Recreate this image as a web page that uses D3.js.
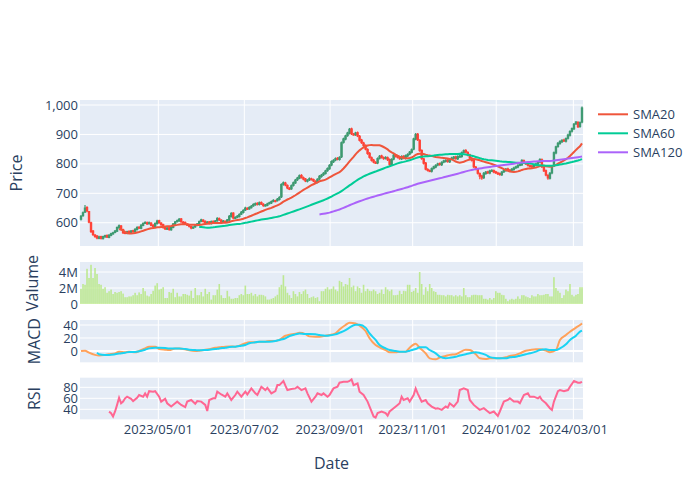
<!DOCTYPE html>
<html><head><meta charset="utf-8">
<script src="https://cdn.jsdelivr.net/npm/d3@7"></script>
<style>body{margin:0;background:#fff}svg{display:block}</style>
</head><body><svg id="c" width="700" height="500"></svg>
<script>
// ---- data (trading-day index = position in arrays) ----
const openP = [612,624,636,652,638,600,572,558,555,547,
553,546,552,557,550,557,562,567,571,583,
589,577,567,564,571,565,573,569,577,585,
581,591,599,600,597,599,592,585,597,607,
599,594,585,578,583,576,584,595,604,606,
613,602,601,595,593,587,583,586,591,597,
605,609,605,599,603,597,605,599,607,614,
609,605,605,604,609,621,633,615,619,621,
629,635,643,649,647,651,657,661,666,662,
669,663,659,659,665,667,673,675,675,679,
688,731,735,727,717,715,727,735,746,751,
761,753,749,741,746,749,747,741,737,749,
757,763,767,777,783,796,807,813,819,815,
824,873,884,896,904,919,901,899,906,894,
881,871,863,849,836,821,813,805,803,819,
827,821,819,821,815,797,816,829,827,821,
817,826,819,827,833,839,850,884,901,880,
846,817,803,781,777,775,785,789,796,801,
797,806,809,813,807,816,819,824,817,826,
825,839,846,839,831,819,813,789,783,767,
759,753,767,773,769,777,777,773,769,767,
763,773,777,783,779,779,781,787,789,796,
797,811,803,801,794,793,789,796,799,806,
814,789,777,761,751,769,793,837,859,869,
875,881,877,887,897,911,919,936,941,927,
942];
const highP = [626,638,660,656,640,603,575,562,558,556,
556,556,559,560,561,566,569,575,587,594,
592,580,570,573,574,575,576,581,588,588,
595,601,605,604,604,602,595,601,610,610,
602,597,588,586,586,588,599,606,611,616,
616,606,604,598,596,590,588,593,599,608,
614,612,608,606,606,608,608,609,619,618,
612,609,608,613,626,636,636,622,626,632,
640,646,654,653,656,660,666,669,670,672,
672,666,664,668,671,676,680,678,684,690,
734,740,739,730,721,730,740,749,756,764,
765,757,752,748,754,753,750,744,751,762,
766,772,780,788,799,812,816,822,823,826,
876,889,899,909,922,923,905,909,910,898,
885,875,866,853,840,825,817,809,822,830,
831,825,826,825,818,819,834,833,830,825,
829,829,832,836,844,852,889,905,905,884,
849,820,806,785,781,788,794,799,804,805,
809,814,816,817,819,824,827,828,829,830,
842,849,850,843,834,823,816,793,786,771,
763,772,776,777,780,782,781,777,773,771,
776,782,786,787,783,786,790,794,799,802,
816,815,807,805,798,797,799,804,809,819,
818,793,781,765,772,796,842,862,874,880,
884,885,890,902,914,924,939,946,945,944,
995];
const lowP = [608,620,633,636,598,565,555,549,544,544,
543,543,549,548,547,554,559,564,569,580,
575,562,561,561,563,562,567,566,574,579,
578,588,596,592,594,588,582,582,594,597,
590,580,575,575,573,573,581,592,601,603,
600,597,593,589,584,578,580,583,588,594,
602,601,596,596,594,594,596,596,603,606,
601,602,600,601,606,618,612,612,615,618,
626,631,640,643,644,648,654,658,659,659,
660,654,655,656,662,664,670,670,672,676,
684,726,724,714,711,712,723,732,742,748,
750,744,738,737,742,744,738,732,734,745,
753,759,764,773,780,792,803,809,812,811,
820,869,880,892,900,898,896,895,891,876,
868,858,846,831,818,808,802,800,799,815,
818,814,815,810,794,793,812,822,818,814,
813,816,815,823,829,835,846,880,878,841,
814,798,778,774,772,771,781,785,792,794,
793,802,805,804,803,812,815,814,813,822,
821,835,836,826,816,808,786,778,764,748,
746,749,763,766,765,773,768,766,762,760,
759,769,773,776,774,775,777,783,785,792,
793,800,796,791,788,786,785,792,795,802,
786,772,758,746,747,765,789,833,855,865,
871,874,873,883,893,907,915,932,922,923,
938];
const closeP = [622,634,650,640,602,570,560,553,548,552,
547,553,556,551,558,563,566,572,584,590,
578,566,565,570,566,572,570,578,584,582,
592,598,601,596,600,591,586,598,606,600,
593,584,579,582,577,585,596,603,607,612,
603,600,596,592,588,582,585,590,596,604,
610,604,600,602,598,604,600,606,615,610,
604,606,603,610,622,632,616,618,622,628,
636,642,650,646,652,656,662,665,663,668,
664,658,660,664,668,672,676,674,680,686,
730,736,728,718,716,726,736,745,752,760,
754,748,742,745,750,748,742,736,748,758,
762,768,776,784,795,808,812,818,816,822,
872,885,895,905,918,902,900,905,895,880,
872,862,850,835,822,812,806,804,818,826,
822,818,822,814,798,815,830,826,822,818,
825,820,828,832,840,848,885,900,882,845,
818,802,782,778,776,784,790,795,800,798,
805,810,812,808,815,820,823,818,825,826,
838,845,840,830,820,812,790,782,768,758,
752,768,772,770,776,778,772,770,766,764,
772,778,782,780,778,782,786,790,795,798,
812,804,800,795,792,790,795,800,805,815,
790,776,762,752,768,792,838,858,870,876,
880,878,886,898,910,920,935,942,926,940,
990];
// volume in millions of shares
const volumeM = [1.9,2.5,2.4,4.4,3.25,4.9,3.25,4.5,3.75,2.5,
2.4,1.9,2.1,1.4,1.6,1.8,1.25,1.5,1.4,1.5,
1.6,1.3,0.85,0.85,0.95,0.95,1.1,1.4,1.1,1.45,
1.25,2.0,1.6,1.05,0.95,1.25,1.65,2.3,2.6,1.8,
1.9,2.1,0.75,0.75,1.5,1.4,1.9,0.85,1.4,0.95,
0.95,1.25,1.25,1.15,1.05,1.65,0.75,2.0,1.1,1.1,
1.5,0.95,1.9,1.25,1.5,0.55,1.1,1.1,1.8,2.5,
1.1,0.75,0.75,1.65,0.95,0.65,0.65,0.75,0.75,1.1,
1.25,1.1,2.3,1.25,1.25,1.4,1.05,1.25,0.95,1.15,
1.15,1.1,0.95,0.55,0.55,0.65,0.75,0.95,1.15,2.1,
2.4,3.6,2.2,1.4,1.1,0.75,1.6,1.25,0.95,1.5,
1.25,1.6,1.8,1.25,0.75,0.85,0.95,0.75,0.85,0.35,
1.6,1.6,1.9,2.1,1.8,1.9,2.2,1.8,1.6,2.9,
2.75,2.2,2.5,2.4,3.25,2.1,2.3,1.6,2.2,2.0,
1.4,2.4,1.6,1.9,1.65,1.6,1.8,1.6,1.25,1.4,
1.8,1.25,2.1,1.8,1.6,1.8,1.1,1.1,1.15,1.65,
1.25,1.65,1.6,2.4,2.4,1.5,1.65,2.0,1.4,4.0,
2.5,1.15,2.1,1.6,2.5,2.0,1.6,1.5,1.15,1.15,
1.1,1.1,0.95,1.15,1.1,1.1,0.95,1.1,0.95,1.1,
0.95,2.0,1.1,0.85,0.85,1.1,1.15,1.15,1.1,1.1,
1.1,0.65,0.65,0.55,0.75,0.55,0.75,1.6,1.4,1.4,
1.15,1.1,0.65,0.35,0.55,0.65,0.55,0.65,0.95,0.65,
1.1,1.1,0.95,0.85,0.75,1.1,0.95,0.95,1.25,1.1,
1.1,1.15,1.25,1.25,0.95,0.95,3.35,2.0,1.65,1.4,
0.75,1.1,1.8,1.6,2.5,1.15,0.95,1.15,1.25,2.1,
2.1];
const macdDay = [0,2,4,7,9,12,14,17,19,22,24,27,29,32,34,37,39,42,44,47,49,52,54,57,59,62,64,67,69,72,74,77,79,82,84,87,89,92,94,97,99,102,104,107,109,112,114,117,119,122,124,127,129,132,134,137,139,142,144,147,149,152,154,157,159,162,164,167,169,172,174,177,179,182,184,187,189,192,194,197,199,202,204,207,209,212,214,217,219,222,224,227,229,232,234,237,239,242,244,247,249,250];
const macdVal = [0,0.5,-2.6,-6,-7,-6,-5,-3.6,-1,-2,
-1,-2,0,4,6.7,6.7,3,2,1.5,4,
4,2.6,1,0,0.5,2,2.6,5,5.6,6.7,
7,6.7,8,12,13.3,13.3,14.4,14.4,15.4,15.4,
17,23.5,25,26.5,28,26,22.5,21.8,22,23.5,
24.6,27,33,40,43.6,42.5,39,30.8,19.5,9.2,
5.6,1.5,-2,-2,-1,-1,5,11.3,5,-3.6,
-11.3,-12.8,-10,-7.7,-6,-5,-2,2,1.5,-5,
-11.3,-12.3,-11.3,-11.3,-11.3,-9.7,-7.7,-6,-3.6,0.5,
1.5,2.6,2.6,0.5,-2,1.5,17,24.6,29.7,36,
40,42.5];
const signalDay = [8].concat(macdDay.slice(4));
const signalVal = [-2.6,-5,-6,-6,-5,-4,-2.6,-1.5,-1.5,-0.5,
2,4,5,5,4.6,4,4,4,3,2,
1.5,1,1.5,2,3,4,5,6,6.7,7.7,
9.2,11.8,13.3,14.4,14.4,14.4,15.4,17,19.5,23,
25.6,27,26,26,25.6,24.6,23.6,24,25.6,28,
32,36,40.5,40.5,36,27,17,9.2,4,1.5,
0,-1,-1,0.5,3,5.6,5.6,1.5,-3.6,-8.7,
-11,-10.5,-9,-7,-5,-3.5,-2,-3,-6,-9.5,
-11,-11.3,-11.3,-9.7,-8.7,-7.2,-5,-3.6,-1,1.5,
2.6,1.5,1.5,4,10.3,17,23.6,29.7,31.3];
const rsiDay = [14,15,16,17,18,19,20,21,22,23,25,26,28,29,31,32,33,34,36,37,39,40,42,43,45,47,48,50,52,53,55,57,58,60,62,63,64,66,67,68,70,72,73,75,77,78,80,82,83,85,87,88,90,92,93,95,97,98,99,101,102,103,105,107,108,110,112,113,115,117,118,120,121,123,124,126,128,129,131,133,134,135,136,138,139,141,143,144,146,147,148,150,152,153,154,156,158,159,160,161,163,164,166,167,168,170,172,173,175,177,178,180,182,183,184,186,188,189,191,193,194,196,198,199,201,203,204,206,208,209,211,213,214,216,218,219,221,223,224,226,228,229,230,232,234,235,236,238,239,241,243,244,246,248,249,250];
const rsiVal = [35.8,33,27,36,48,61,51,54,60,63,59,55,61,66,63,69,63,73,72,73,63,54,59,51,45,51,54,48,44,54,57,50,55,54,48,37,57,60,60,72,67,63,69,57,66,72,63,72,67,78,69,66,81,75,79,69,73,84,84,91.5,83,75,77,78,81,75,78,69,54,63,69,66,69,63,66,78,81,88.5,90,90,91.5,94.5,84,87,72,66,54,45,27,25,33,36,33,28.5,36,42,48,51,63,57,60,54,66,78,69,54,57,51,45,41,42,39,45,43,51,45,54,75,78,75,57,48,42,39,42,36,33,36,28,36,54,57,60,54,54,51,66,69,63,63,60,63,57,51,42,39,54,73,75,73,75,81,91.5,88.5,88.5,90];
const xTickPos = [38.6,81.5,124.3,165.5,207.2,245.7];
const xTickLabels = ["2023/05/01","2023/07/02","2023/09/01","2023/11/01","2024/01/02","2024/03/01"];
const priceTicks = [600,700,800,900,1000];
const volumeTicks = [0,2,4];
const volumeTickLabels = ["0","2M","4M"];
const macdTicks = [0,20,40];
const rsiTicks = [40,60,80];
const smaPeriods = [20,60,120];
const smaNames = ["SMA20","SMA60","SMA120"];

// ---- drawing ----
const FONT = '"Open Sans", verdana, arial, sans-serif';
const TXT = '#2a3f5f';
const BG = '#E5ECF6';
const TICK = 13, TITLE = 16;
const svg = d3.select('#c').style('font-family', FONT);
svg.append('rect').attr('width',700).attr('height',500).attr('fill','#fff');
const N = closeP.length;
const L = 80, R = 583;
const x = d3.scaleLinear().domain([-0.5, N - 0.5]).range([L, R]);

const yP = d3.scaleLinear().domain([521, 1017]).range([246, 100]);
const yV = d3.scaleLinear().domain([0, 5.25]).range([304, 262]);
const yM = d3.scaleLinear().domain([-17.4, 47.7]).range([362.3, 320]);
const yR = d3.scaleLinear().domain([21.8, 97.5]).range([419.3, 377.7]);

function panel(y, ticks, fmt, title, titleX, xgrid) {
  const [b, t] = y.range();
  svg.append('rect').attr('x', L).attr('y', t).attr('width', R - L).attr('height', b - t).attr('fill', BG);
  const g = svg.append('g');
  if (xgrid) {
    g.selectAll('.vx').data(xTickPos).join('line')
      .attr('x1', d => x(d)).attr('x2', d => x(d)).attr('y1', t).attr('y2', b)
      .attr('stroke', '#fff').attr('stroke-width', 1);
  }
  g.selectAll('.hy').data(ticks).join('line')
    .attr('x1', L).attr('x2', R).attr('y1', d => y(d)).attr('y2', d => y(d))
    .attr('stroke', '#fff').attr('stroke-width', d => d === 0 ? 2 : 1);
  g.selectAll('.tl').data(ticks).join('text')
    .attr('x', L - 2).attr('y', d => y(d)).attr('dy', '0.35em')
    .attr('text-anchor', 'end').attr('font-size', TICK).attr('fill', TXT)
    .text((d, i) => fmt(d, i));
  svg.append('text').attr('transform', `translate(${titleX},${(t + b) / 2}) rotate(-90)`)
    .attr('dy', '0.35em')
    .attr('text-anchor', 'middle').attr('font-size', TITLE).attr('fill', TXT).text(title);
}

panel(yP, priceTicks, d => d3.format(',')(d), 'Price', 16, true);
panel(yV, volumeTicks, (d, i) => volumeTickLabels[i], 'Valume', 32, false);
panel(yM, macdTicks, d => d, 'MACD', 34, true);
panel(yR, rsiTicks, d => d, 'RSI', 34, true);

// candles
const inc = '#3D9970', dec = '#FF4136';
const cg = svg.append('g');
d3.range(N).forEach(i => {
  const col = closeP[i] >= openP[i] ? inc : dec;
  const cx = x(i);
  cg.append('line').attr('x1', cx).attr('x2', cx)
    .attr('y1', yP(highP[i])).attr('y2', yP(lowP[i]))
    .attr('stroke', col).attr('stroke-width', 1.2);
  const top = yP(Math.max(openP[i], closeP[i]));
  const h = Math.max(1, Math.abs(yP(openP[i]) - yP(closeP[i])));
  cg.append('rect').attr('x', cx - 0.7).attr('width', 1.4)
    .attr('y', top).attr('height', h)
    .attr('fill', col).attr('stroke', col).attr('stroke-width', 1);
});

// SMAs
const smaColors = ['#EF553B', '#00CC96', '#AB63FA'];
smaPeriods.forEach((p, k) => {
  const pts = [];
  for (let i = p - 1; i < N; i++) {
    pts.push([i, d3.mean(closeP.slice(i - p + 1, i + 1))]);
  }
  svg.append('path').datum(pts)
    .attr('d', d3.line().x(d => x(d[0])).y(d => yP(d[1])))
    .attr('fill', 'none').attr('stroke', smaColors[k]).attr('stroke-width', 2);
});

// volume bars
const bw = (x(1) - x(0)) * 0.8;
svg.append('g').selectAll('rect').data(volumeM).join('rect')
  .attr('x', (d, i) => x(i) - bw / 2).attr('width', bw)
  .attr('y', d => yV(d)).attr('height', d => yV(0) - yV(d))
  .attr('fill', '#B6E880').attr('opacity', 0.85);

// MACD + signal
const lineM = d3.line().x(d => x(d[0])).y(d => yM(d[1])).curve(d3.curveMonotoneX);
svg.append('path').datum(macdDay.map((d, i) => [d, macdVal[i]]))
  .attr('d', lineM).attr('fill', 'none').attr('stroke', '#FFA15A').attr('stroke-width', 2);
svg.append('path').datum(signalDay.map((d, i) => [d, signalVal[i]]))
  .attr('d', lineM).attr('fill', 'none').attr('stroke', '#19D3F3').attr('stroke-width', 2);

// RSI
svg.append('path').datum(rsiDay.map((d, i) => [d, rsiVal[i]]))
  .attr('d', d3.line().x(d => x(d[0])).y(d => yR(d[1])))
  .attr('fill', 'none').attr('stroke', '#FF6692').attr('stroke-width', 2);

// x tick labels and title
svg.append('g').selectAll('text').data(xTickPos).join('text')
  .attr('x', d => x(d)).attr('y', 434).attr('text-anchor', 'middle')
  .attr('font-size', TICK).attr('fill', TXT).text((d, i) => xTickLabels[i]);
svg.append('text').attr('x', (L + R) / 2).attr('y', 469).attr('text-anchor', 'middle')
  .attr('font-size', TITLE).attr('fill', TXT).text('Date');

// legend
const lg = svg.append('g');
smaNames.forEach((n, k) => {
  const yy = 114.3 + k * 19;
  lg.append('line').attr('x1', 598).attr('x2', 628).attr('y1', yy).attr('y2', yy)
    .attr('stroke', smaColors[k]).attr('stroke-width', 2);
  lg.append('text').attr('x', 633).attr('y', yy).attr('dy', '0.35em')
    .attr('font-size', TICK).attr('fill', TXT).text(n);
});
</script></body></html>
